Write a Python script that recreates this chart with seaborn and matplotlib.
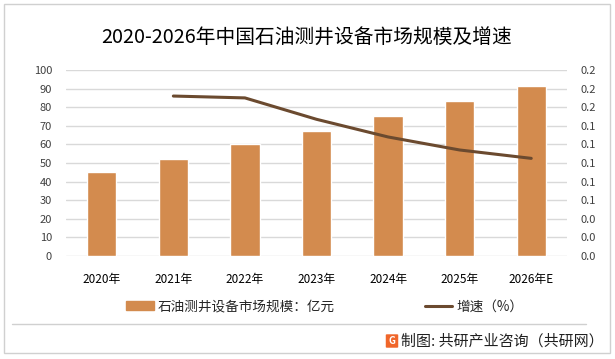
import numpy as np
import pandas as pd
import matplotlib
matplotlib.use("Agg")
import matplotlib.pyplot as plt
import seaborn as sns
from matplotlib.patches import Rectangle, FancyBboxPatch
from matplotlib.lines import Line2D
from matplotlib.ticker import FormatStrFormatter

years = ["2020年", "2021年", "2022年", "2023年", "2024年", "2025年", "2026年E"]
market_size = [45, 52, 60, 67, 75.5, 83.5, 91.5]
growth_years = ["2021年", "2022年", "2023年", "2024年", "2025年", "2026年E"]
growth_rate = [0.172, 0.170, 0.147, 0.128, 0.114, 0.105]

title = "2020-2026年中国石油测井设备市场规模及增速"
bar_label = "石油测井设备市场规模：亿元"
line_label = "增速（%）"
source = "制图: 共研产业咨询（共研网）"

bar_color = "#D38B4E"
line_color = "#6B4A2F"
grid_color = "#D9D9D9"
text_color = "#404040"

sns.set_theme(style="white")
plt.rcParams['font.family'] = ['Noto Sans CJK SC', 'DejaVu Sans']

fig = plt.figure(figsize=(6.15, 3.59), dpi=100)
ax = fig.add_axes([0.1073, 0.2869, 0.8147, 0.5181])

df = pd.DataFrame({"year": years, "size": market_size})
sns.barplot(data=df, x="year", y="size", color=bar_color, width=0.41,
            saturation=1, ax=ax)
ax.set_ylim(0, 100)
ax.set_yticks(np.arange(0, 101, 10))
ax.yaxis.grid(True, color=grid_color, linewidth=1)
ax.set_axisbelow(True)
ax.set_xlabel("")
ax.set_ylabel("")
ax.tick_params(axis="y", labelsize=8, colors=text_color, length=0, pad=10)
ax.tick_params(axis="x", labelsize=8.5, colors="black", length=0, pad=12)
for s in ax.spines.values():
    s.set_visible(False)

ax2 = ax.twinx()
gdf = pd.DataFrame({"pos": [years.index(y) for y in growth_years], "rate": growth_rate})
sns.lineplot(data=gdf, x="pos", y="rate", color=line_color, linewidth=2.2, ax=ax2)
ax2.set_ylim(0, 0.2)
ax2.set_yticks(np.arange(0, 0.2001, 0.02))
ax2.yaxis.set_major_formatter(FormatStrFormatter("%.1f"))
ax2.set_ylabel("")
ax2.tick_params(axis="y", labelsize=8, colors=text_color, length=0, pad=10)
for s in ax2.spines.values():
    s.set_visible(False)
ax.set_xlim(-0.5, len(years) - 0.5)

fig.text(0.498, 0.894, title, ha="center", va="center", fontsize=14.2, color="black")

handles = [Rectangle((0, 0), 1, 1, color=bar_color),
           Line2D([0], [0], color=line_color, linewidth=2.2)]
fig.legend(handles, [bar_label, line_label], loc="center", bbox_to_anchor=(0.528, 0.147),
           ncol=2, frameon=False, fontsize=9.8, columnspacing=6.6, handlelength=2.0,
           handleheight=0.6, handletextpad=0.3)

# frame, separator and footer
fig.add_artist(Rectangle((4 / 615, 6 / 359), 606 / 615, 349 / 359, transform=fig.transFigure,
                         fill=False, edgecolor="#D0D0D0", linewidth=1))
fig.add_artist(Line2D([12 / 615, 586 / 615], [1 - 324 / 359, 1 - 324 / 359],
                      transform=fig.transFigure, color="#D0D0D0", linewidth=1))
fig.add_artist(FancyBboxPatch((387 / 615, 1 - 347 / 359), 10 / 615, 12 / 359,
                              boxstyle="round,pad=0.002", transform=fig.transFigure,
                              facecolor="#F0662A", edgecolor="none"))
fig.text(392 / 615, 1 - 341 / 359, "G", ha="center", va="center", fontsize=7,
         color="white", fontweight="bold")
fig.text(401 / 615, 1 - 341 / 359, source, ha="left", va="center", fontsize=10.8, color="#202020")

fig.savefig("out.png", dpi=100)
